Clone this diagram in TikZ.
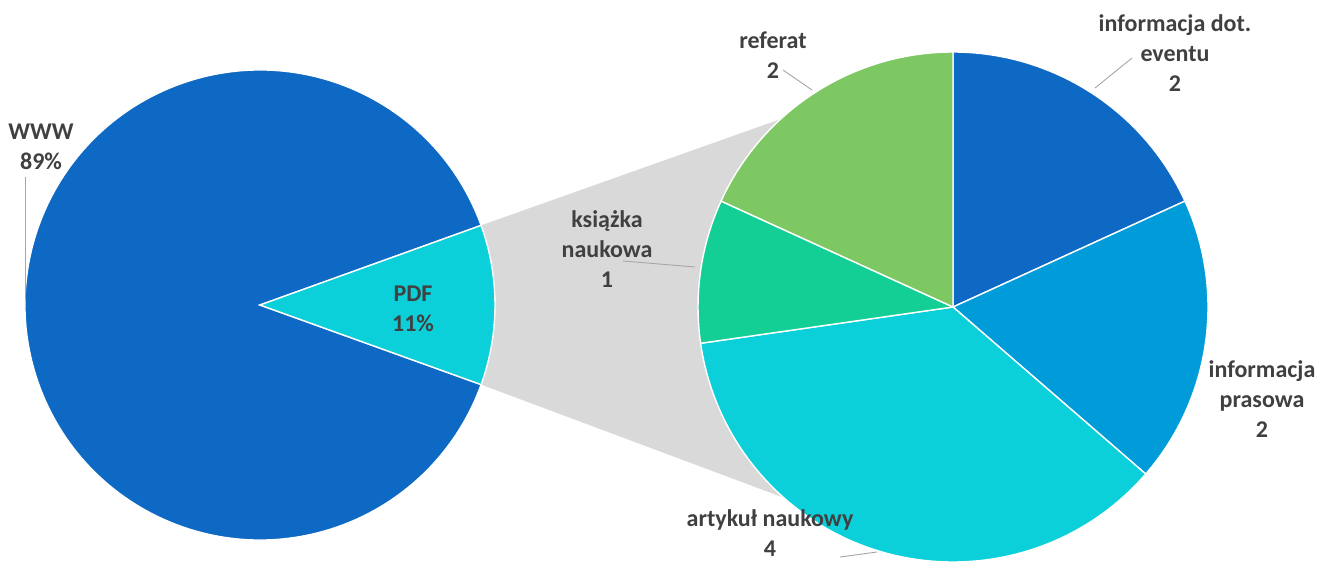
\documentclass[tikz,border=0pt]{standalone}
\usepackage{fontspec}
\setmainfont{Carlito}
\usetikzlibrary{calc}
\definecolor{blueA}{HTML}{0E69C4}
\definecolor{blueB}{HTML}{009CDA}
\definecolor{cyanA}{HTML}{0BD0D9}
\definecolor{greenA}{HTML}{13CE95}
\definecolor{greenB}{HTML}{7DC862}
\definecolor{greyA}{HTML}{D9D9D9}
\definecolor{textA}{HTML}{404040}
\definecolor{leadA}{HTML}{A6A6A6}
\begin{document}
\begin{tikzpicture}
[x=1pt,y=1pt,every node/.style={align=center, text=textA, font=\fontsize{24}{30}\selectfont\bfseries, inner sep=0pt},
 slice/.style={draw=white, line width=1.4pt},
 leader/.style={draw=leadA, line width=0.9pt}]
\useasboundingbox (0,0) rectangle (1321,563);
\def \ra {235}
\def \rb {255}
\def \u {32.7273} % one item of the right pie, in degrees
\coordinate (c1) at (260,258);
\coordinate (c2) at (953,256);
% grey band between the two pies
\coordinate (p1) at ($(c1)+(19.8:\ra)$);
\coordinate (p2) at ($(c1)+(-19.8:\ra)$);
\coordinate (q1) at ($(c2)+(132.5:\rb)$);
\coordinate (q2) at ($(c2)+(228.4:\rb)$);
\fill[greyA] (p1) -- (q1) arc[start angle=132.5, end angle=228.4, radius=\rb] -- (p2) -- cycle;
% left pie
\filldraw[slice, fill=blueA] (c1) -- ++(19.8:\ra) arc[start angle=19.8, end angle=340.2, radius=\ra] -- cycle;
\filldraw[slice, fill=cyanA] (c1) -- ++(-19.8:\ra) arc[start angle=-19.8, end angle=19.8, radius=\ra] -- cycle;
% right pie
\foreach \a/\b/\col in {90/{90-2*\u}/blueA, {90-2*\u}/{90-4*\u}/blueB, {90-4*\u}/{90-8*\u}/cyanA, {90-8*\u}/{90-9*\u}/greenA, {90-9*\u}/{90-11*\u}/greenB}
{
  \filldraw[slice, fill=\col] (c2) -- ++(\a:\rb) arc[start angle=\a, end angle=\b, radius=\rb] -- cycle;
}
% labels
\node (www) at (41,416) {WWW\\89\%};
\node (pdf) at (413,254) {PDF\\11\%};
\node (referat) at (773,508) {referat\\2};
\node (event) at (1175,510) {informacja dot.\\eventu\\2};
\node (prasa) at (1262,164) {informacja\\prasowa\\2};
\node (ksiazka) at (607,314) {książka\\naukowa\\1};
\node (artykul) at (770,30) {artykuł naukowy\\4};
% leader lines
\coordinate (l1) at (25,386);
\coordinate (l1e) at (25,263);
\coordinate (l2) at (783,493);
\coordinate (l2e) at (812,473);
\coordinate (l3) at (1132,505);
\coordinate (l3e) at (1095,475);
\coordinate (l4) at (623,302);
\coordinate (l4e) at (695,296);
\coordinate (l5) at (840,6);
\coordinate (l5e) at (877,11);
\draw[leader] (l1) -- (l1e);
\draw[leader] (l2) -- (l2e);
\draw[leader] (l3) -- (l3e);
\draw[leader] (l4) -- (l4e);
\draw[leader] (l5) -- (l5e);
\end{tikzpicture}
\end{document}
